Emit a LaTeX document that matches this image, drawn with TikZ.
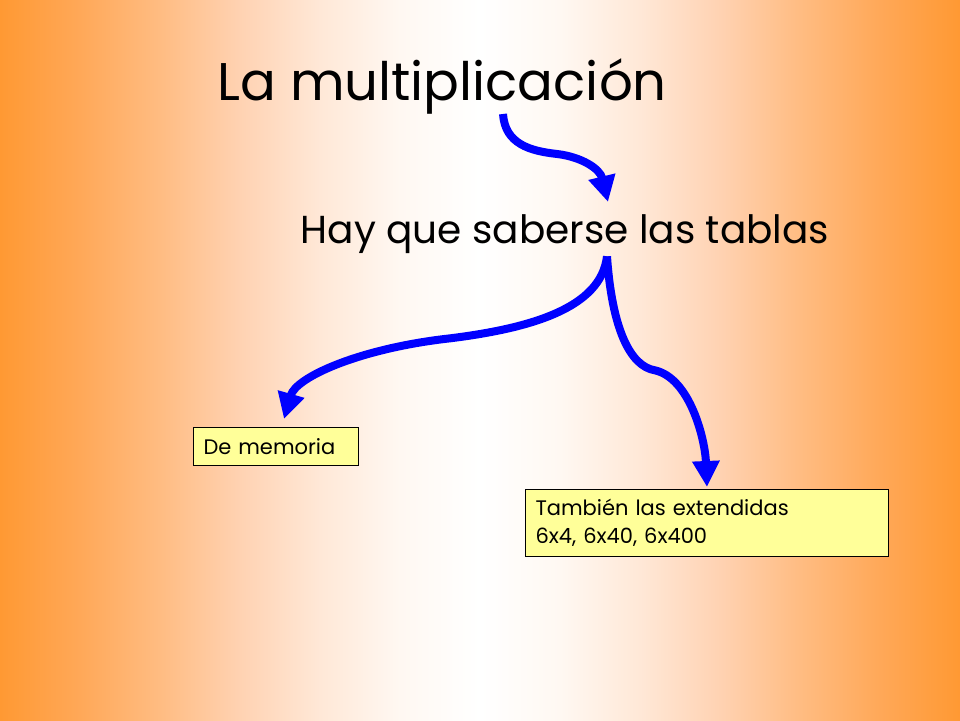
\documentclass[tikz,border=0pt]{standalone}
\usepackage{fontspec}
\setmainfont{Poppins}
\usetikzlibrary{arrows.meta,calc}
\definecolor{orng}{RGB}{255,153,51}
\definecolor{bgA}{RGB}{255,168,88}
\definecolor{bgB}{RGB}{255,188,130}
\definecolor{bgC}{RGB}{255,210,178}
\definecolor{bgD}{RGB}{255,232,215}
\definecolor{bgE}{RGB}{255,248,242}
\definecolor{boxfill}{RGB}{255,255,153}
\definecolor{arrowblue}{RGB}{0,0,255}
\pgfdeclarehorizontalshading{bgshade}{100bp}{color(0bp)=(orng); color(25bp)=(orng);
  color(29.1667bp)=(bgA); color(33.3333bp)=(bgB); color(37.5bp)=(bgC);
  color(41.6667bp)=(bgD); color(45.8333bp)=(bgE); color(50bp)=(white);
  color(54.1667bp)=(bgE); color(58.3333bp)=(bgD); color(62.5bp)=(bgC);
  color(66.6667bp)=(bgB); color(70.8333bp)=(bgA); color(75bp)=(orng); color(100bp)=(orng)}
\tikzset{
  title/.style={inner sep=0pt,font=\fontsize{53}{60}\selectfont},
  subtitle/.style={inner sep=0pt,font=\fontsize{39}{46}\selectfont},
  notebox/.style={draw=black,line width=1pt,fill=boxfill,anchor=north west,
    inner xsep=10pt,inner ysep=0pt,align=left,
    font=\fontsize{21}{28}\selectfont},
  flow/.style={draw=arrowblue,line width=8pt,
    -{Triangle[length=26pt,width=26pt]}}
}
\begin{document}
\begin{tikzpicture}[x=1pt,y=-1pt]
\useasboundingbox (0,0) rectangle (960,720);
\shade[shading=bgshade] (0,0) rectangle (960,720);
\node[title,anchor=base] (title) at (442,100) {La multiplicación};
\node[subtitle,anchor=base] (sub) at (565,243) {Hay que saberse las tablas};
\node[notebox,minimum width=165pt,minimum height=38pt,text width=145pt] (box1) at (193,427) {De memoria};
\node[notebox,minimum width=363pt,minimum height=67pt,text width=343pt] (box2) at (525,489) {También las extendidas\\6x4, 6x40, 6x400};
\draw[flow] ($(title.south)+(61,0)$) .. controls ($(title.south)+(63,30)$) and ($(title.south)+(88,37)$) .. ($(title.south)+(115,40)$)
  .. controls ($(title.south)+(140,43)$) and ($(title.south)+(158,55)$) .. ($(sub.north)+(43,-12)$);
\draw[flow] ($(sub.south)+(42,3)$) .. controls ($(sub.south)+(36,55)$) and ($(sub.south)+(-35,75)$) .. ($(sub.south)+(-115,85)$)
  .. controls ($(sub.south)+(-205,95)$) and ($(box1.north)+(20,-50)$) .. ($(box1.north)+(8,-8)$);
\draw[flow] ($(sub.south)+(42,3)$) .. controls ($(sub.south)+(47,75)$) and ($(sub.south)+(65,113)$) .. ($(sub.south)+(90,117)$)
  .. controls ($(sub.south)+(125,125)$) and ($(box2.north)+(-2,-50)$) .. ($(box2.north)+(0,-2)$);
\end{tikzpicture}
\end{document}
